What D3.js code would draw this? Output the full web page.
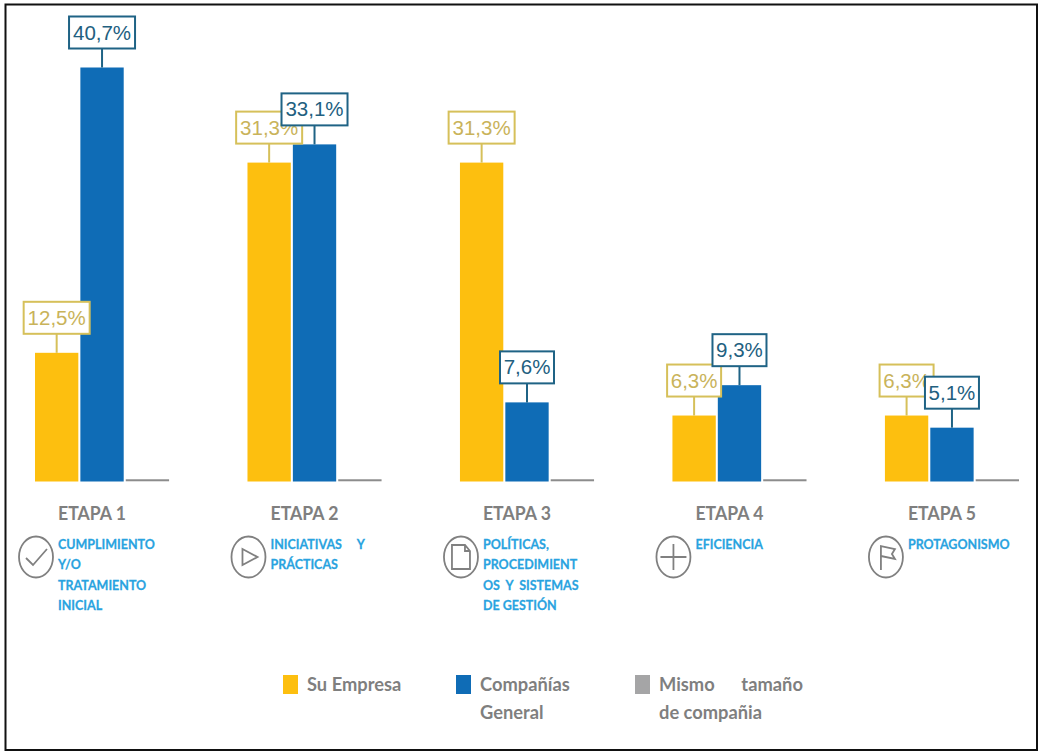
<!DOCTYPE html>
<html><head><meta charset="utf-8">
<script src="https://d3js.org/d3.v7.min.js"></script>
<style>html,body{margin:0;padding:0;background:#fff}svg{display:block}</style>
</head><body><svg id="c" width="1038" height="751"></svg>
<script>
const etapas = ["ETAPA 1","ETAPA 2","ETAPA 3","ETAPA 4","ETAPA 5"];
const descripciones = [
  ["CUMPLIMIENTO","Y/O","TRATAMIENTO","INICIAL"],
  ["INICIATIVAS     Y","PRÁCTICAS"],
  ["POLÍTICAS,","PROCEDIMIENT","OS  Y  SISTEMAS","DE GESTIÓN"],
  ["EFICIENCIA"],
  ["PROTAGONISMO"]
];
const iconos = ["check","play","doc","plus","flag"];
const suEmpresa = [12.5,31.3,31.3,6.3,6.3];
const companias = [40.7,33.1,7.6,9.3,5.1];
const mismoTamano = [0,0,0,0,0];
const etiquetasSu = ["12,5%","31,3%","31,3%","6,3%","6,3%"];
const etiquetasCo = ["40,7%","33,1%","7,6%","9,3%","5,1%"];
const leyenda = [["Su Empresa"],["Compañías","General"],["Mismo      tamaño","de compañia"]];

const C = {su:"#fdbf0f",co:"#0f6cb6",mi:"#a5a5a6",suL:"#d6c05a",coL:"#1f6385",suT:"#c9b35a",coT:"#22607f",
           gray:"#7f7f7f",blue:"#29a3e0"};
const svg = d3.select("#c");
svg.append("rect").attr("x",5.5).attr("y",4.5).attr("width",1031.5).attr("height",745.5)
  .attr("fill","#fff").attr("stroke","#111").attr("stroke-width",2);

const x0 = d3.scaleBand().domain(d3.range(5)).range([35,1019]).paddingInner(0.369).paddingOuter(0);
const x1 = d3.scaleBand().domain([0,1,2]).range([0,x0.bandwidth()]).paddingInner(0.045);
const y = d3.scaleLinear().domain([-0.22,40.7]).range([481.5,67.5]);
const base = y.range()[0];

const groups = svg.selectAll("g.grp").data(etapas).join("g").attr("class","grp")
  .attr("transform",(d,i)=>`translate(${x0(i)},0)`);

// barras
const drawBars=(vals,k,col)=>groups.append("rect")
  .attr("x",x1(k)).attr("width",x1.bandwidth())
  .attr("y",(d,i)=>y(vals[i])).attr("height",(d,i)=>base-y(vals[i])).attr("fill",col);
drawBars(suEmpresa,0,C.su);
drawBars(companias,1,C.co);
groups.append("rect").attr("x",x1(2)).attr("width",x1.bandwidth())
  .attr("y",(d,i)=>Math.min(y(mismoTamano[i]),base-2)).attr("height",2).attr("fill","#8c8c8c");

// etiquetas
const drawLabels=(vals,txt,k,cl,ct)=>{
  const g=groups.append("g").attr("transform",(d,i)=>`translate(${x1(k)+x1.bandwidth()/2},${y(vals[i])})`);
  g.append("line").attr("y1",0).attr("y2",-19).attr("stroke",cl).attr("stroke-width",2);
  g.append("rect").attr("x",(d,i)=>txt[i].length>4?-33:-27).attr("y",-51)
    .attr("width",(d,i)=>txt[i].length>4?66:54).attr("height",32)
    .attr("fill","#fff").attr("stroke",cl).attr("stroke-width",2);
  g.append("text").attr("text-anchor","middle").attr("y",-28)
    .attr("font-family","'Liberation Sans',sans-serif").attr("font-size",20.5)
    .attr("fill",ct).text((d,i)=>txt[i]);
};
drawLabels(suEmpresa,etiquetasSu,0,C.suL,C.suT);
drawLabels(companias,etiquetasCo,1,C.coL,C.coT);

// texto estrecho: misma anchura, glifos más altos
const narrow=(sel,px,py)=>sel.attr("transform",`translate(${px},${py}) scale(0.92,1)`)
  .attr("font-family","Lato,sans-serif").attr("font-weight",700).style("white-space","pre");

narrow(groups.append("text"),23,519.5).attr("font-size",19.2).attr("fill",C.gray).text(d=>d);
groups.each(function(d,i){
  const g=d3.select(this);
  descripciones[i].forEach((l,j)=>narrow(g.append("text"),23,549+j*20.3)
    .attr("font-size",13.6).attr("stroke",C.blue).attr("stroke-width",0.25)
    .attr("fill",C.blue).text(l));
  const ic=g.append("g").attr("transform","translate(1,557)").attr("fill","none").attr("stroke","#808080").attr("stroke-width",1.8);
  ic.append("ellipse").attr("rx",17).attr("ry",20.5).attr("cx",0).attr("cy",0);
  const paths={check:"M-10,1L-3,8L11,-8",play:"M-6,-8L9,0L-6,8Z",
    doc:"M-9,-12H4L9,-6V12H-9ZM4,-12V-6H9",plus:"M-13,0H13M0,-13V13",flag:"M-5,13V-11L9,-8L6,-3L9,2L-5,-1"};
  ic.append("path").attr("d",paths[iconos[i]]);
});

// leyenda
const legX=[283,456,635], legC=[C.su,C.co,C.mi];
leyenda.forEach((ls,i)=>{
  svg.append("rect").attr("x",legX[i]).attr("y",675).attr("width",15).attr("height",19).attr("fill",legC[i]);
  ls.forEach((l,j)=>narrow(svg.append("text"),legX[i]+24,691+j*28)
    .attr("font-size",19.9).attr("fill",C.gray).text(l));
});
</script></body></html>
